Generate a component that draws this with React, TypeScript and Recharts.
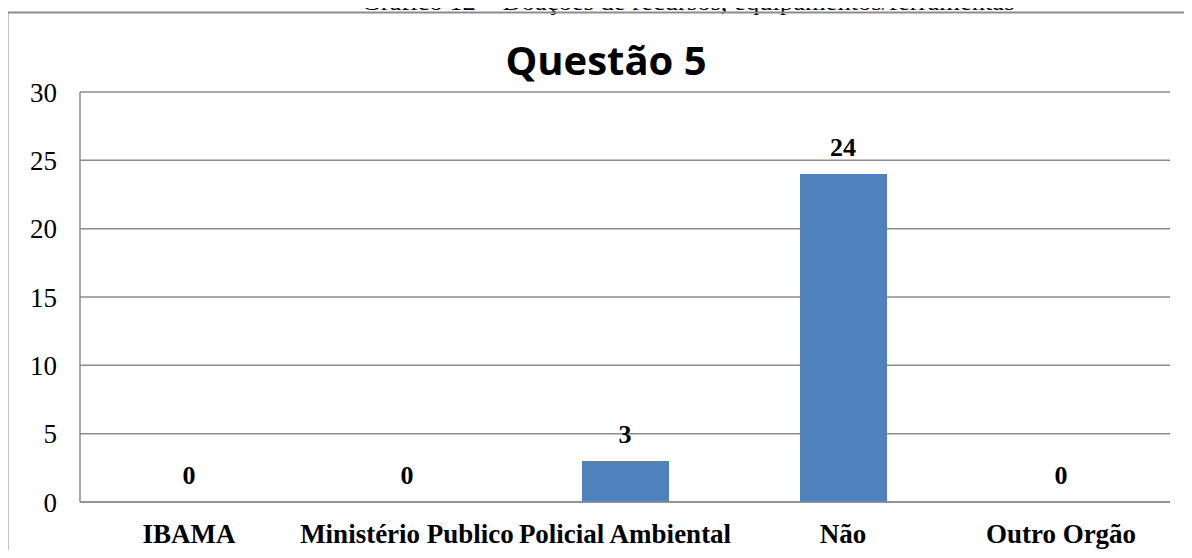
import React from 'react';
import { ComposedChart, Bar, Line, XAxis, YAxis, CartesianGrid, LabelList } from 'recharts';

const categories = ['IBAMA', 'Ministério Publico', 'Policial Ambiental', 'Não', 'Outro Orgão'];
const respostas = [0, 0, 3, 24, 0];
const yTicks = [0, 5, 10, 15, 20, 25, 30];

const chartData = categories.map((name, i) => ({ name, value: respostas[i] }));

const serif = '"Liberation Serif", "Times New Roman", serif';
const grey = '#8c8c8c';

// rótulo de valor (via série invisível, assim o 0 também aparece)
const ValueLabel = (props: any) => {
  const { x, y, value } = props;
  if (x == null || y == null) return null;
  return (
    <text
      x={Number(x)}
      y={Number(y) - 18}
      textAnchor="middle"
      fontFamily={serif}
      fontSize={26}
      fontWeight="bold"
      fill="#000"
    >
      {String(value)}
    </text>
  );
};

const App = () => {
  return (
    <div style={{ position: 'relative', width: 1192, height: 558, margin: -8, overflow: 'hidden', background: '#fff' }}>
      <ComposedChart
        width={1192}
        height={558}
        data={chartData}
        margin={{ top: 92, right: 22, bottom: 16, left: 20 }}
      >
        <CartesianGrid vertical={false} stroke={grey} strokeWidth={1.5} />
        <XAxis
          dataKey="name"
          height={40}
          axisLine={{ stroke: grey, strokeWidth: 1.5 }}
          tickLine={false}
          tickSize={0}
          tickMargin={22}
          interval={0}
          tick={{ fill: '#000', fontFamily: serif, fontSize: 27, fontWeight: 'bold' }}
        />
        <YAxis
          width={60}
          domain={[0, 30]}
          ticks={yTicks}
          axisLine={{ stroke: grey, strokeWidth: 1.5 }}
          tickLine={false}
          tickSize={0}
          tickMargin={23}
          tick={{ fill: '#000', fontFamily: serif, fontSize: 27 }}
        />
        <Bar dataKey="value" fill="#4F81BD" barSize={87} isAnimationActive={false} />
        <Line
          dataKey="value"
          stroke="none"
          dot={false}
          activeDot={false}
          legendType="none"
          isAnimationActive={false}
        >
          <LabelList dataKey="value" content={ValueLabel} />
        </Line>
      </ComposedChart>
      <svg width={1192} height={558} style={{ position: 'absolute', left: 0, top: 0, pointerEvents: 'none' }}>
        <text x={688} y={10} textAnchor="middle" fontFamily={serif} fontSize={24} textLength={653} lengthAdjust="spacingAndGlyphs">
          Gráfico 12 – Doações de recursos, equipamentos/ferramentas
        </text>
        <line x1={7.5} y1={12.5} x2={1192} y2={12.5} stroke={grey} strokeWidth={2} />
        <line x1={7.5} y1={12.5} x2={7.5} y2={558} stroke={grey} strokeWidth={2} />
        <text x={606} y={75} textAnchor="middle" fontFamily='"Open Sans", sans-serif' fontWeight="bold" fontSize={40}>
          Questão 5
        </text>
      </svg>
    </div>
  );
};

export default App;
